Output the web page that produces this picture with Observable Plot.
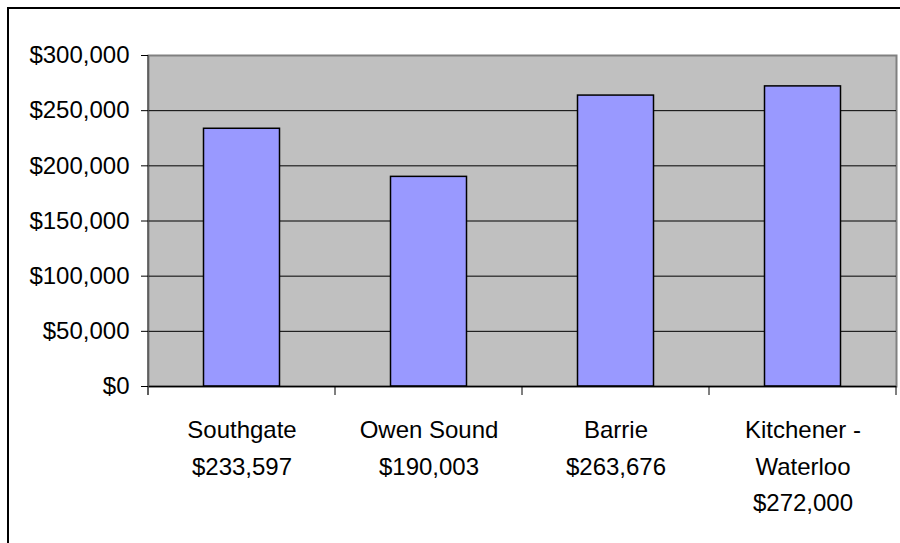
<!DOCTYPE html>
<html><head><meta charset="utf-8">
<script src="https://cdn.jsdelivr.net/npm/d3@7"></script>
<script src="https://cdn.jsdelivr.net/npm/@observablehq/plot@0.6"></script>
<style>
html,body{margin:0;padding:0;background:#fff;overflow:hidden;}
#wrap{position:relative;width:900px;height:543px;overflow:hidden;background:#fff;}
#border{position:absolute;left:7px;top:7px;width:1000px;height:1000px;border:2px solid #000;box-sizing:border-box;pointer-events:none;}
#chart{position:absolute;left:0;top:0;}
</style></head><body>
<div id="wrap"><div id="chart"></div><div id="border"></div></div>
<script>
const cities = ["Southgate", "Owen Sound", "Barrie", "Kitchener - Waterloo"];
const cityLines = ["Southgate", "Owen Sound", "Barrie", "Kitchener -\nWaterloo"];
const prices = [233597, 190003, 263676, 272000];
const yTicks = [0, 50000, 100000, 150000, 200000, 250000, 300000];

const fmt = d3.format("$,");
const data = cities.map((c, i) => ({city: c, label: cityLines[i] + "\n" + fmt(prices[i]), price: prices[i]}));
const labelOf = new Map(data.map(d => [d.city, d.label]));

function categoryTicks(index, scales, values, dims) {
  const x = scales.x;
  const bw = typeof x.bandwidth === "function" ? x.bandwidth() : x.bandwidth;
  const y0 = dims.height - dims.marginBottom;
  const bounds = cities.map(c => x(c)).concat([x(cities[cities.length - 1]) + bw]);
  const g = d3.create("svg:g");
  g.selectAll("line.t").data(bounds).join("line")
    .attr("x1", d => d).attr("x2", d => d)
    .attr("y1", y0).attr("y2", y0 + 9)
    .attr("stroke", "#000").attr("stroke-width", 1);
  g.append("line")
    .attr("x1", bounds[0]).attr("x2", bounds[0])
    .attr("y1", dims.marginTop).attr("y2", y0 + 9)
    .attr("stroke", "#555").attr("stroke-width", 1.5);
  return g.node();
}

const chart = Plot.plot({
  width: 900, height: 543,
  marginLeft: 148, marginRight: 4, marginTop: 55, marginBottom: 157,
  style: {fontFamily: "Arial, 'Liberation Sans', sans-serif", fontSize: "24px", background: "transparent", color: "#000"},
  x: {domain: cities, padding: 0, label: null},
  y: {domain: [0, 300000], label: null},
  marks: [
    Plot.frame({fill: "#C0C0C0", stroke: "#808080", strokeWidth: 2}),
    Plot.ruleY(yTicks.slice(1, -1), {stroke: "#000", strokeWidth: 1}),
    Plot.barY(data, {x: "city", y: "price", fill: "#9999FF", stroke: "#000", strokeWidth: 1.5, insetLeft: 55.5, insetRight: 55.5}),
    Plot.ruleY([0], {stroke: "#000", strokeWidth: 1.5}),
    categoryTicks,
    Plot.axisY(yTicks, {tickFormat: fmt, tickSize: 7, tickPadding: 12, fontSize: 24}),
    Plot.axisX({tickSize: 0, tickPadding: 26, tickFormat: c => labelOf.get(c), lineHeight: 1.52, fontSize: 24})
  ]
});
document.getElementById("chart").appendChild(chart);
</script>
</body></html>
